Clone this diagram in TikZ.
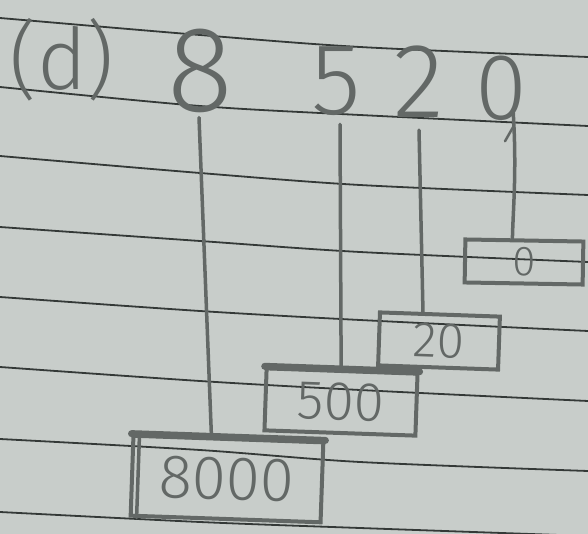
\documentclass[tikz,border=0pt]{standalone}
\usepackage{fontspec}
\newfontfamily\hand{Fira Sans Light}
\definecolor{paper}{HTML}{C8CDCA}
\definecolor{pencil}{HTML}{636866}
\definecolor{ruling}{HTML}{343937}
\tikzset{
  pen/.style={draw=pencil, line width=3.5pt, line cap=round},
  numbox/.style={draw=pencil, line width=4pt, inner sep=0pt, text=pencil},
  digit/.style={text=pencil, inner sep=0pt, anchor=base},
  ruled/.style={draw=ruling, line width=1.8pt},
}
\begin{document}
\begin{tikzpicture}[x=1pt,y=-1pt]

    % paper
    \fill[paper] (0,0) rectangle (588,534);
    \useasboundingbox (0,0) rectangle (588,534);
    % ruled lines of the page
    \foreach \a/\b/\c/\d in {18/35/47/57, 87/106/115/126, 156/173/185/195, 227/241/252/262,
        297/311/320/331, 367/381/390/401, 439/450/462/471, 512/522/528/536}
        \draw[ruled] plot[smooth] coordinates {(0,\a) (200,\b) (360,\c) (588,\d)};
    % the number
    \node[digit, font=\hand\fontsize{85}{85}\selectfont] (part) at (62,90) {(d)};
    \node[digit, font=\hand\fontsize{122}{122}\selectfont] (d8) at (200,112) {8};
    \node[digit, font=\hand\fontsize{102}{102}\selectfont] (d5) at (336,115) {5};
    \node[digit, font=\hand\fontsize{106}{106}\selectfont] (d2) at (419,118) {2};
    \node[digit, font=\hand\fontsize{94}{94}\selectfont] (d0) at (501,120) {0};
    % place value boxes
    \node[numbox, minimum width=190pt, minimum height=80pt, rotate=-2,
          font=\hand\fontsize{62}{62}\selectfont] (b8000) at (227,479) {8000};
    \node[numbox, minimum width=151pt, minimum height=62pt, rotate=-2,
          font=\hand\fontsize{55}{55}\selectfont] (b500) at (341,402) {500};
    \node[numbox, minimum width=120pt, minimum height=53pt, rotate=-2,
          font=\hand\fontsize{50}{50}\selectfont] (b20) at (439,341) {20};
    \node[numbox, minimum width=118pt, minimum height=43pt, rotate=-1,
          font=\hand\fontsize{42}{42}\selectfont] (b0) at (524,262) {0};
    % heavy top edges
    \draw[pen, line width=7pt] (b8000.north west) -- (b8000.north east);
    \draw[pen, line width=7pt] (b500.north west) -- (b500.north east);
    % second left edge of the 8000 box
    \draw[pen] ([xshift=8pt]b8000.north west) -- ([xshift=8pt]b8000.south west);
    % stems from the digits down to the boxes
    \draw[pen] ([xshift=-1pt,yshift=-4pt]d8.south) -- ([xshift=-17pt]b8000.north);
    \draw[pen] ([xshift=4pt,yshift=-8pt]d5.south) -- ([xshift=-1pt]b500.north);
    \draw[pen] ([yshift=-12pt]d2.south) -- ([xshift=-17pt]b20.north);
    \draw[pen] ([xshift=12pt,yshift=12pt]d0.south) .. controls (517,170) and (513,210) .. ([xshift=-12pt]b0.north);
    \draw[pen, line width=2.5pt] ([xshift=4pt,yshift=-20pt]d0.south) -- ([xshift=12pt,yshift=-6pt]d0.south); % small hook
\end{tikzpicture}
\end{document}
